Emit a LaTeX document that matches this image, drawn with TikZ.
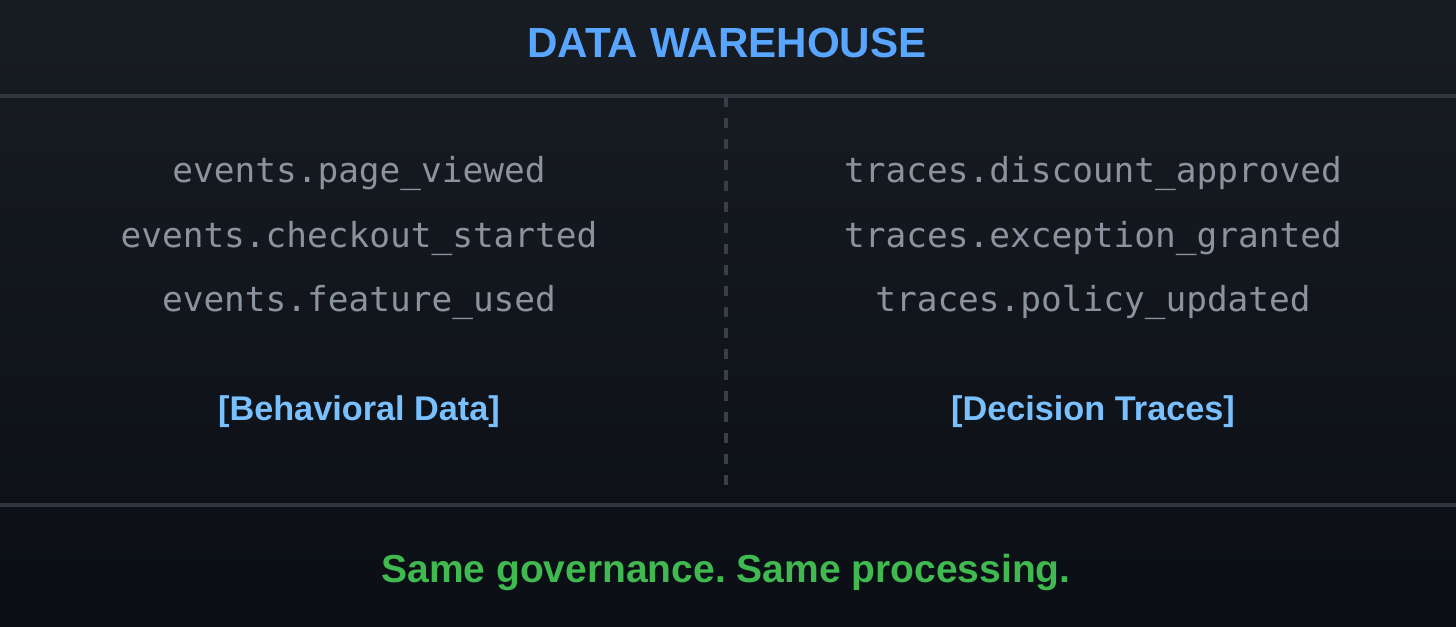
\documentclass[tikz,border=0pt]{standalone}
\usepackage{fontspec}
\setmainfont{Liberation Sans}
\newfontfamily\codefont{DejaVu Sans Mono}
\usepackage{tikz}

\definecolor{bgtop}{HTML}{181C23}
\definecolor{bgmid}{HTML}{11151C}
\definecolor{bgbot}{HTML}{0B0F15}
\definecolor{rulegray}{HTML}{30363D}
\definecolor{dashgray}{HTML}{3A3F47}
\definecolor{codegray}{HTML}{8B949E}
\definecolor{titleblue}{HTML}{58A6FF}
\definecolor{labelblue}{HTML}{79C0FF}
\definecolor{okgreen}{HTML}{3FB950}

\tikzset{
  code/.style={text=codegray, font=\codefont\fontsize{19.6}{22}\selectfont, inner sep=0pt},
  tag/.style={text=labelblue, font=\bfseries\fontsize{19.5}{22}\selectfont, inner sep=0pt},
  sep/.style={draw=rulegray, line width=2pt}
}

\begin{document}
\frenchspacing
\begin{tikzpicture}[x=0.02cm, y=-0.02cm]
\useasboundingbox (0,0) rectangle (1456,626);
\shade[top color=bgtop, middle color=bgmid, bottom color=bgbot] (0,0) rectangle (1456,626);

\node[text=titleblue, font=\bfseries\fontsize{24}{26}\selectfont, inner sep=0pt] (title) at (727,43) {DATA WAREHOUSE};

\draw[sep] (0,96) -- (1456,96);
\draw[sep] (0,505) -- (1456,505);
\draw[draw=dashgray, line width=2.2pt, dash pattern=on 0.2cm off 0.22cm] (726,97) -- (726,495);

\node[code] (ev1) at (359,173) {events.page\_viewed};
\node[code] (ev2) at (359,238) {events.checkout\_started};
\node[code] (ev3) at (359,302) {events.feature\_used};
\node[tag] (behav) at (359,412) {[Behavioral Data]};

\node[code] (tr1) at (1093,173) {traces.discount\_approved};
\node[code] (tr2) at (1093,238) {traces.exception\_granted};
\node[code] (tr3) at (1093,302) {traces.policy\_updated};
\node[tag] (decis) at (1093,412) {[Decision Traces]};

\node[text=okgreen, font=\bfseries\fontsize{22.2}{25}\selectfont, inner sep=0pt] (motto) at (726,572) {Same governance. Same processing.};
\end{tikzpicture}
\end{document}
